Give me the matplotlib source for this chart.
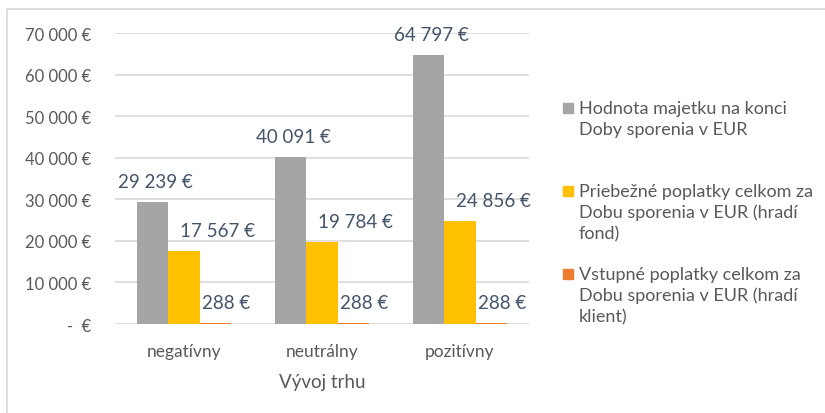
import matplotlib.pyplot as plt
from matplotlib.patches import Rectangle
import numpy as np

plt.rcParams['font.family'] = ['Lato', 'DejaVu Sans']

# data
categories = ['negatívny', 'neutrálny', 'pozitívny']
hodnota = [29239, 40091, 64797]
priebezne = [17567, 19784, 24856]
vstupne = [288, 288, 288]
series_names = ['Hodnota majetku na konci\nDoby sporenia v EUR',
                'Priebežné poplatky celkom za\nDobu sporenia v EUR (hradí\nfond)',
                'Vstupné poplatky celkom za\nDobu sporenia v EUR (hradí\nklient)']
colors = ['#A5A5A5', '#FFC000', '#ED7D31']
yticks = [0, 10000, 20000, 30000, 40000, 50000, 60000, 70000]


def eur(v):
    if v == 0:
        return '-  €'
    return f'{v:,}'.replace(',', ' ') + ' €'


W, H = 825, 414
fig = plt.figure(figsize=(W / 100, H / 100), dpi=100)

# chart frame
fig.patches.append(Rectangle((7 / W, -0.1), 1.2, 1 - 10 / H + 0.1, transform=fig.transFigure,
                             fill=False, edgecolor='#D9D9D9', linewidth=1.2))

ax = fig.add_axes([115 / W, 1 - 325 / H, 414 / W, 291 / H])
x = np.arange(len(categories))
bw = 0.225
all_series = [hodnota, priebezne, vstupne]
label_dx = [2, 33, 11]  # pixel shift of data labels
for i, (vals, c) in enumerate(zip(all_series, colors)):
    pos = x + (i - 1) * bw
    ax.bar(pos, vals, bw, color=c, zorder=2)
    for px, v in zip(pos, vals):
        ax.annotate(eur(v), (px, v), xytext=(label_dx[i], 12), textcoords='offset pixels',
                    ha='center', va='bottom', fontsize=13.5, color='#44546A')

ax.set_xlim(-0.5, 2.5)
ax.set_ylim(0, 70000)
ax.set_yticks(yticks)
ax.set_yticklabels([eur(v) for v in yticks])
ax.set_xticks(x)
ax.set_xticklabels(categories)
ax.tick_params(axis='y', length=0, pad=17, labelsize=12, labelcolor='#595959')
ax.tick_params(axis='x', length=0, pad=14, labelsize=12.5, labelcolor='#595959')
ax.grid(axis='y', color='#D9D9D9', linewidth=1.2, zorder=0)
for s in ax.spines.values():
    s.set_visible(False)
ax.set_xlabel('Vývoj trhu', fontsize=13.5, color='#595959', labelpad=10)

# legend drawn by hand
leg_y = [109, 192, 275]
for name, c, ly in zip(series_names, colors, leg_y):
    fig.patches.append(Rectangle((563 / W, 1 - (ly + 5) / H), 10 / W, 10 / H,
                                 transform=fig.transFigure, color=c))
    fig.text(579 / W, 1 - (ly - 8) / H, name, fontsize=13, color='#595959',
             va='top', ha='left', linespacing=1.35)

fig.savefig('out.png', dpi=100)
